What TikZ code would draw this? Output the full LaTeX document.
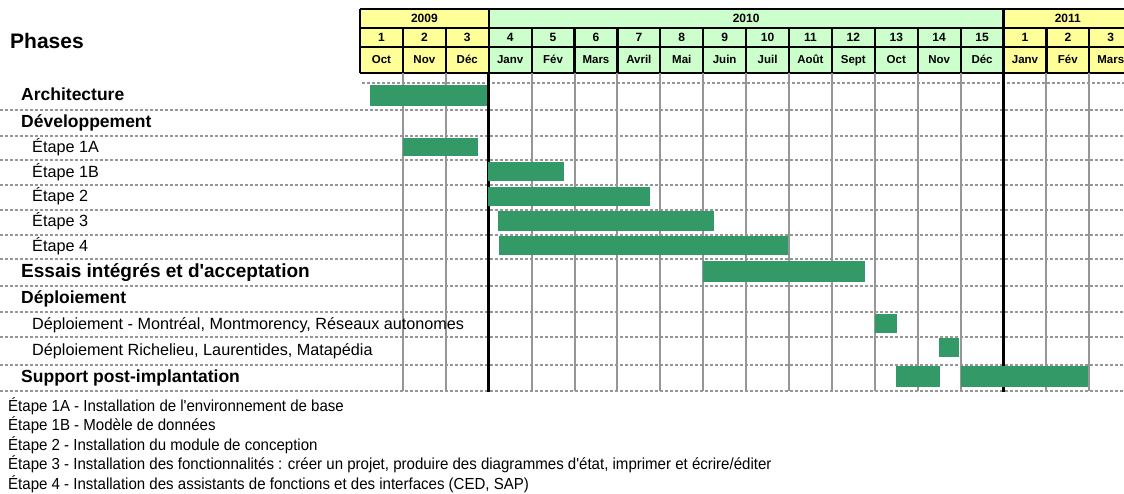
\documentclass[tikz,border=0pt]{standalone}
\usepackage{fontspec}
\setmainfont{Liberation Sans}
\usetikzlibrary{positioning}

\definecolor{barvert}{HTML}{339966}
\definecolor{jaune}{HTML}{FFFF99}
\definecolor{vertpale}{HTML}{CCFFCC}
\definecolor{grille}{HTML}{969696}

\newcommand{\etroit}[1]{\scalebox{0.94}[1]{#1}}

\tikzset{
  barre/.style={fill=barvert},
  pointille/.style={draw=grille, line width=2pt, dash pattern=on 3pt off 2pt},
  colonne/.style={draw=grille, line width=2pt},
  annee/.style={draw=black, line width=3pt},
  cadre/.style={draw=black, line width=2.2pt},
  titre/.style={anchor=base west, inner sep=0pt, font=\bfseries\fontsize{17.5}{17.5}\selectfont},
  etape/.style={anchor=base west, inner sep=0pt, font=\fontsize{16.2}{16.2}\selectfont},
  note/.style={anchor=base west, inner sep=0pt, font=\fontsize{16}{16}\selectfont},
  entete/.style={anchor=base, inner sep=0pt, font=\bfseries\fontsize{12}{12}\selectfont},
  mois/.style={anchor=base, inner sep=0pt, font=\bfseries\fontsize{11.5}{11.5}\selectfont},
}

\begin{document}
\begin{tikzpicture}[x=1pt, y=-1pt]
  \useasboundingbox (0,0) rectangle (1124,494);

  % en-tete
  \node[anchor=base west, inner sep=0pt, font=\bfseries\fontsize{21}{21}\selectfont] (phases) at (10,48.5) {Phases};
  \fill[jaune] (360,9) rectangle (488.7,73);
  \fill[vertpale] (488.7,9) rectangle (1003.5,73);
  \fill[jaune] (1003.5,9) rectangle (1132,73);
  \foreach \y in {9,28,47,73}
    \draw[cadre] (360,\y) -- (1132,\y);
  \foreach \i in {1,...,17}
    \draw[cadre] ({360+42.9*\i},28) -- ({360+42.9*\i},73);
  \foreach \x in {360,488.7,1003.5}
    \draw[cadre] (\x,9) -- (\x,73);
  \node[entete] (a2009) at (424.4,23) {2009};
  \node[entete] (a2010) at (746.1,23) {2010};
  \node[entete] (a2011) at (1067.8,23) {2011};
  \foreach \n [count=\i from 0] in {1,2,3,4,5,6,7,8,9,10,11,12,13,14,15,1,2,3}
    \node[entete] (n\i) at ({381.45+42.9*\i},42) {\n};
  \foreach \m [count=\i from 0] in {Oct,Nov,Déc,Janv,Fév,Mars,Avril,Mai,Juin,Juil,Août,Sept,Oct,Nov,Déc,Janv,Fév,Mars}
    \node[mois] (m\i) at ({381.45+42.9*\i},64) {\m};

  % grille
  \draw[pointille] (362,83) -- (1124,83);
  \foreach \y in {110,136,160.5,185,210,235,259,286,312,337,364.5,391}
    \draw[pointille] (0,\y) -- (1124,\y);
  \foreach \i in {1,2,4,5,6,7,8,9,10,11,12,13,14,16,17}
    \draw[colonne] ({360+42.9*\i},73) -- ({360+42.9*\i},391);
  \draw[annee] (488.7,73) -- (488.7,392);
  \draw[annee] (1003.5,73) -- (1003.5,392);

  % barres
  \foreach \xa/\xb/\ya/\yb in {370/487/85/106, 403/478/138/156, 488/564/162/181,
      488/650/187/206, 498/714/211/231, 499/788/236/255, 703/865/261/282,
      875/897/314/333, 939/959/338/357, 896/940/366/387, 961/1088/366/387}
    \fill[barre] (\xa,\ya) rectangle (\xb,\yb);

  % phases
  \node[titre] (archi) at (21,101) {Architecture};
  \node[titre] (dev) at (21,128) {Développement};
  \node[etape] (e1a) at (32,153) {Étape 1A};
  \node[etape] (e1b) at (32,177.5) {Étape 1B};
  \node[etape] (e2) at (32,202) {Étape 2};
  \node[etape] (e3) at (32,227) {Étape 3};
  \node[etape] (e4) at (32,251.5) {Étape 4};
  \node[titre, font=\bfseries\fontsize{19}{19}\selectfont] (essais) at (21,278) {Essais intégrés et d\textquotesingle acceptation};
  \node[titre] (deploi) at (21,304) {Déploiement};
  \node[etape] (dmtl) at (32,329.5) {Déploiement - Montréal, Montmorency, Réseaux autonomes};
  \node[etape] (drich) at (32,355.5) {Déploiement Richelieu, Laurentides, Matapédia};
  \node[titre] (support) at (21,382) {Support post-implantation};

  % notes
  \node[note] (note1) at (8,411) {\etroit{Étape 1A - Installation de l\textquotesingle environnement de base}};
  \node[note] (note2) at (8,430.5) {\etroit{Étape 1B - Modèle de données}};
  \node[note] (note3) at (8,450) {\etroit{Étape 2 - Installation du module de conception}};
  \node[note] (note4) at (8,469.5) {\etroit{Étape 3 - Installation des fonctionnalités : créer un projet, produire des diagrammes d\textquotesingle état, imprimer et écrire/éditer}};
  \node[note] (note5) at (8,489) {\etroit{Étape 4 - Installation des assistants de fonctions et des interfaces (CED, SAP)}};
\end{tikzpicture}
\end{document}
